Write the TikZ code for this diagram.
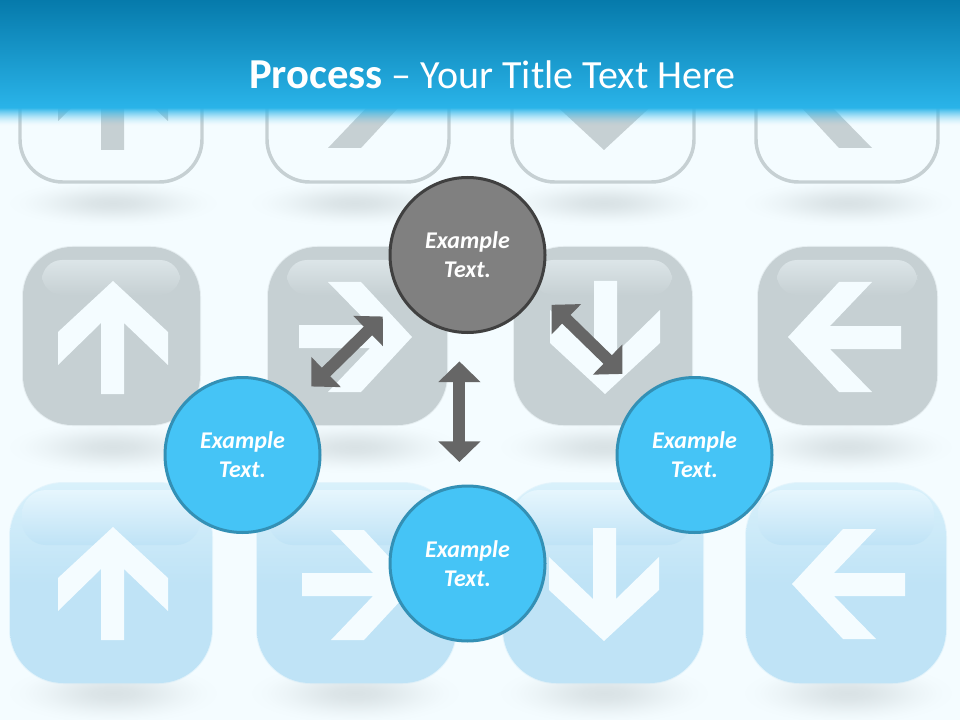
\documentclass[tikz,border=0pt]{standalone}
\usepackage{fontspec}
\setmainfont{Carlito}
\usetikzlibrary{arrows.meta}
\definecolor{bgc}{HTML}{F4FCFF}
\definecolor{greyb}{HTML}{C6D0D3}
\definecolor{greyl}{HTML}{DCE5E8}
\definecolor{blueb}{HTML}{BFE3F6}
\definecolor{bluel}{HTML}{D9F1FB}
\definecolor{bluet}{HTML}{E6F6FD}
\definecolor{bandA}{HTML}{067AAB}
\definecolor{bandB}{HTML}{2AB4E9}
\definecolor{shc}{HTML}{D9E2E5}
\definecolor{circb}{HTML}{45C4F6}
\definecolor{circe}{HTML}{3390B5}
\definecolor{circg}{HTML}{808080}
\definecolor{circk}{HTML}{404040}
\definecolor{arrg}{HTML}{666666}
\pgfdeclareradialshading{softsh}{\pgfpoint{0bp}{0bp}}{color(0bp)=(shc);color(5bp)=(shc!88!bgc);color(10bp)=(shc!62!bgc);color(16bp)=(shc!28!bgc);color(21bp)=(shc!7!bgc);color(25bp)=(bgc);color(50bp)=(bgc)}
\tikzset{
  bubble/.style={circle,minimum size=116.25pt,inner sep=0pt,outer sep=0pt,line width=2.25pt,text=white,align=center,
    font=\fontsize{18}{21.75}\selectfont\bfseries\itshape},
  bluebubble/.style={bubble,draw=circe,fill=circb},
  greybubble/.style={bubble,draw=circk,fill=circg},
  dblarrow/.style={draw=arrg,line width=9pt,{Triangle[length=15.5pt,width=30.75pt]}-{Triangle[length=15.5pt,width=30.75pt]}},
  softshadow/.style={shading=softsh},
  titletext/.style={text=white,anchor=base,inner sep=0pt,font=\fontsize{30}{36}\selectfont},
}
% up arrow glyph, centred on 0,0
\newcommand{\glyph}[4]{\fill[#4,shift={(#1,#2)},rotate=#3] (0,-57) -- (55,-6) -- (55,27) -- (11,-15) -- (11,56) -- (-12,56) -- (-12,-15) -- (-55,27) -- (-55,-6) -- cycle;}
\newcommand{\softellipse}[3]{\shade[softshadow] (#1,#2) ellipse [x radius=108, y radius=#3];}
% x0 y0 x1 y1
\newcommand{\greybtn}[4]{%
  \draw[greyb,line width=1.5pt,opacity=.3,rounded corners=37pt] (#1,#2) rectangle (#3,#4);
  \fill[greyb,rounded corners=37pt] (#1,#2) rectangle (#3,#4);
  \shade[top color=greyl,bottom color=greyb,rounded corners=15pt] (#1+19,#2+13) rectangle (#3-20,#2+48);
}
\newcommand{\bluebtn}[4]{%
  \draw[blueb,line width=1.5pt,opacity=.3,rounded corners=40pt] (#1,#2) rectangle (#3,#4);
  \shade[top color=bluel,bottom color=blueb,middle color=blueb,rounded corners=40pt] (#1,#2) rectangle (#3,#4);
  \shade[top color=bluet,bottom color=blueb,rounded corners=18pt] (#1+12,#2+7) rectangle (#3-12,#2+62);
}
\begin{document}
\begin{tikzpicture}[x=0.75pt,y=-0.75pt]
\useasboundingbox (0,0) rectangle (960,720);
\clip (0,0) rectangle (960,720);
\fill[bgc] (0,0) rectangle (960,720);
% reflections
\foreach \cx in {113,355,604,848}{
  \softellipse{\cx}{203}{24}
  \softellipse{\cx}{447}{27}
  \softellipse{\cx}{693}{31}
}
% top row
\foreach \a/\b in {20/202,267/449,512/694,756/938}{
  \draw[greyb,line width=2.6pt,rounded corners=32pt] (\a,2) rectangle (\b,182);
}
\glyph{113}{94}{0}{greyb}
\glyph{355}{93}{-90}{greyb}
\glyph{604}{93}{180}{greyb}
\glyph{845}{93}{90}{greyb}
% middle row
\greybtn{23}{247}{200}{425}
\greybtn{268}{247}{447}{425}
\greybtn{514}{247}{692}{425}
\greybtn{758}{247}{937}{425}
\glyph{113}{338}{0}{bgc}
\glyph{355}{337}{-90}{bgc}
\glyph{605}{337}{180}{bgc}
\glyph{845}{337}{90}{bgc}
% bottom row
\bluebtn{10}{483}{212}{683}
\bluebtn{257}{483}{456}{683}
\bluebtn{503}{483}{703}{683}
\bluebtn{746}{483}{946}{683}
\glyph{113}{584}{0}{bgc}
\glyph{358}{585}{-90}{bgc}
\glyph{604}{584}{180}{bgc}
\glyph{849}{584}{90}{bgc}
% title band
\shade[top color=bandA,bottom color=bandB,middle color=bandA!50!bandB] (0,0) rectangle (960,108);
\foreach \i in {0,...,17}{
  \pgfmathsetmacro{\op}{(1-(\i+0.5)/18)^1.6}
  \fill[bandB,opacity=\op] (0,108+\i) rectangle (960,109+\i);
}
\node[titletext] (title) at (492.5,89) {{\fontsize{32}{36}\selectfont\bfseries Process} – Your Title Text Here};
% circles
\node[greybubble] (top) at (467.5,255) {Example\\Text.};
\node[bluebubble] (left) at (242.5,455) {Example\\Text.};
\node[bluebubble] (right) at (694.5,455) {Example\\Text.};
\node[bluebubble] (bottom) at (467.5,563.5) {Example\\Text.};
% connectors
\draw[dblarrow,shorten >=18.3pt,shorten <=22pt] (top.264) -- (bottom.96);
\draw[dblarrow,shorten <=20.7pt,shorten >=14.7pt] (top.213.3) -- (left.45.2);
\draw[dblarrow,shorten <=15.7pt,shorten >=23.3pt] (top.-27.8) -- (right.130.5);
\end{tikzpicture}
\end{document}
